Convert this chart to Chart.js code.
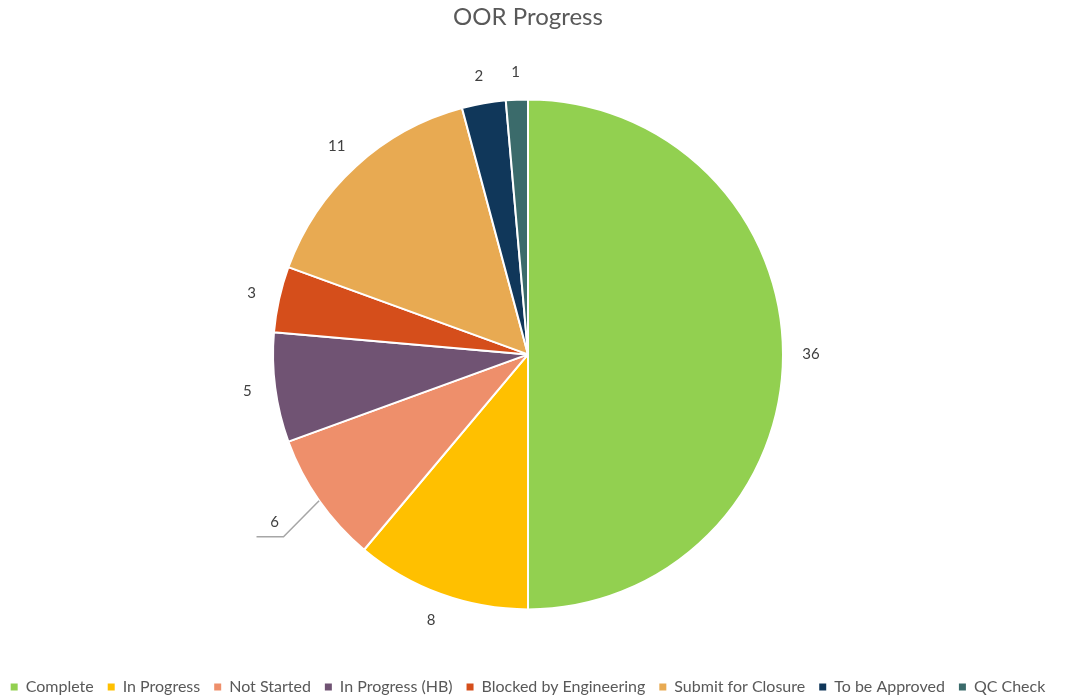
<!DOCTYPE html>
<html lang="en">
<head>
  <meta charset="UTF-8" />
  <title>OOR Progress</title>
  <script src="https://cdn.jsdelivr.net/npm/chart.js"></script>
  <style>
    *{margin:0;padding:0;box-sizing:border-box}
    body{background:#fff;width:1066px;height:699px;overflow:hidden;position:relative}
    .wrap{position:absolute;left:-10px;top:0;width:1076px;height:705px}
  </style>
</head>
<body>
  <div class="wrap"><canvas id="pie"></canvas></div>

  <script>
    const categories = ['Complete', 'In Progress', 'Not Started', 'In Progress (HB)', 'Blocked by Engineering', 'Submit for Closure', 'To be Approved', 'QC Check'];
    const counts = [36, 8, 6, 5, 3, 11, 2, 1];
    const colours = ['#92d050', '#ffc000', '#ee8f6b', '#705373', '#d54e1b', '#e8aa52', '#10375a', '#3b6b6b'];

    const FONT = "Lato, 'Open Sans', sans-serif";
    const TEXT = '#595959';

    // value labels outside the slices; the small "Not Started" one gets a leader line
    const outsideLabels = {
      id: 'outsideLabels',
      afterDatasetsDraw(chart) {
        const ctx = chart.ctx;
        const meta = chart.getDatasetMeta(0);
        ctx.save();
        ctx.font = '15px ' + FONT;
        ctx.fillStyle = '#404040';
        ctx.textAlign = 'center';
        ctx.textBaseline = 'middle';
        meta.data.forEach((arc, i) => {
          const p = arc.getProps(['x', 'y', 'startAngle', 'endAngle', 'outerRadius'], true);
          const mid = (p.startAngle + p.endAngle) / 2;
          const cos = Math.cos(mid), sin = Math.sin(mid);
          if (i === 2) {
            const a1 = mid - 0.03, r1 = p.outerRadius + 50;
            const ex = p.x + Math.cos(a1) * r1, ey = p.y + Math.sin(a1) * r1;
            ctx.strokeStyle = '#a6a6a6';
            ctx.lineWidth = 1.5;
            ctx.beginPath();
            ctx.moveTo(p.x + cos * p.outerRadius, p.y + sin * p.outerRadius);
            ctx.lineTo(ex, ey);
            ctx.lineTo(ex - 27, ey);
            ctx.stroke();
            ctx.fillText(String(counts[i]), ex - 9, ey - 15);
          } else {
            const r = p.outerRadius + 28;
            ctx.fillText(String(counts[i]), p.x + cos * r, p.y + sin * r);
          }
        });
        ctx.restore();
      }
    };

    new Chart(document.getElementById('pie'), {
      type: 'pie',
      data: {
        labels: categories,
        datasets: [{
          data: counts,
          backgroundColor: colours,
          borderColor: '#ffffff',
          borderWidth: 2,
          radius: 255
        }]
      },
      options: {
        responsive: true,
        maintainAspectRatio: false,
        animation: false,
        layout: { padding: 0 },
        plugins: {
          title: {
            display: true,
            text: 'OOR Progress',
            color: TEXT,
            font: { family: FONT, size: 24, weight: 'normal' },
            padding: { top: 3, bottom: 12 }
          },
          legend: {
            position: 'bottom',
            labels: {
              color: TEXT,
              font: { family: FONT, size: 16 },
              boxWidth: 7,
              boxHeight: 7,
              padding: 14,
              generateLabels(chart) {
                return Chart.overrides.pie.plugins.legend.labels.generateLabels(chart)
                  .map(l => ({ ...l, lineWidth: 0, strokeStyle: l.fillStyle }));
              }
            }
          },
          tooltip: { enabled: false }
        }
      },
      plugins: [outsideLabels]
    });
  </script>
</body>
</html>
